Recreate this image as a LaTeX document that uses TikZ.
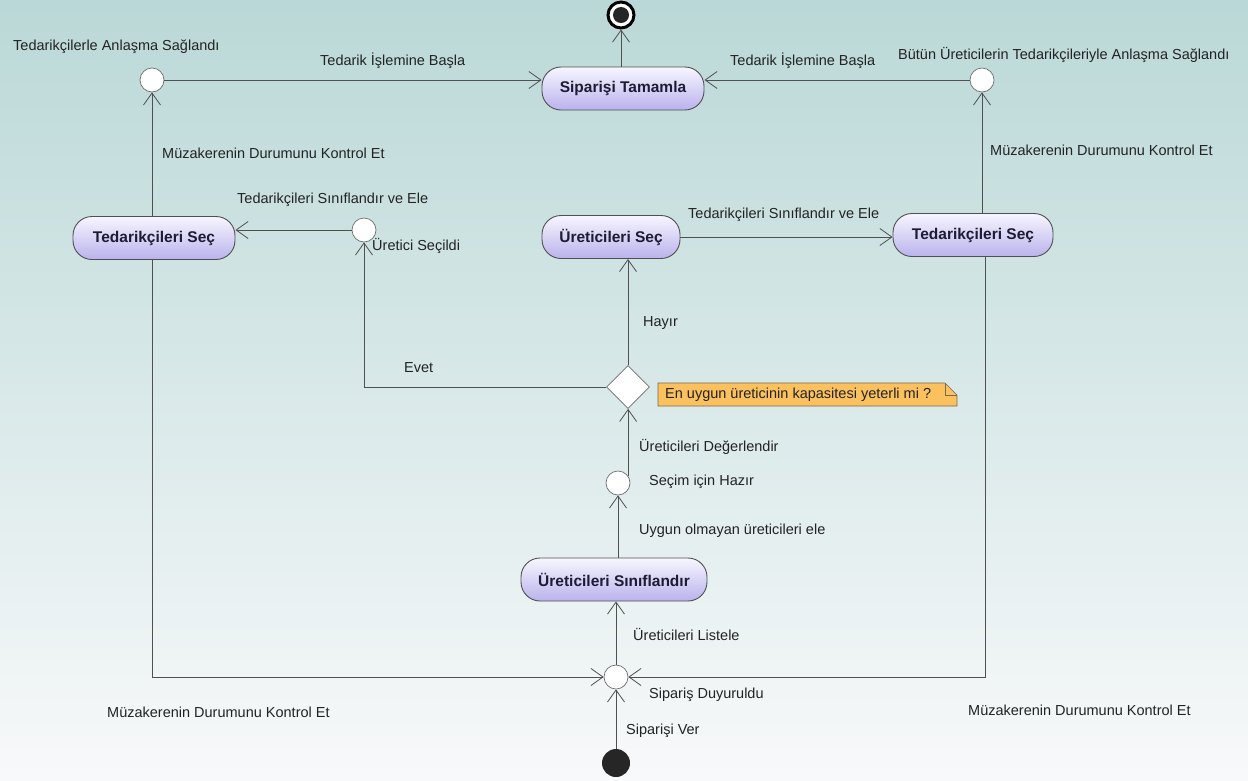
\documentclass[tikz,border=0pt]{standalone}
\usepackage{fontspec}
\setmainfont{Liberation Sans}
\usetikzlibrary{arrows.meta,shapes.geometric,calc}

\definecolor{bgtop}{RGB}{186,216,215}
\definecolor{bgmid}{RGB}{214,230,232}
\definecolor{bgbot}{RGB}{248,249,250}
\definecolor{acttop}{RGB}{247,246,255}
\definecolor{actbot}{RGB}{186,178,236}
\definecolor{edge}{RGB}{80,80,80}
\definecolor{jgray}{RGB}{110,110,110}
\definecolor{txt}{RGB}{35,35,35}
\definecolor{acttxt}{RGB}{28,28,50}
\definecolor{notefill}{RGB}{251,193,95}
\definecolor{noteedge}{RGB}{120,105,80}

\begin{document}
\begin{tikzpicture}[x=1pt,y=-1pt,
  lbl/.style={anchor=west, inner sep=0pt, font=\fontsize{14.5}{16}\selectfont, text=txt},
  act/.style={draw=edge, line width=0.9pt, rounded corners=19pt,
    top color=acttop, bottom color=actbot,
    font=\bfseries\fontsize{15.5}{18}\selectfont, text=acttxt,
    minimum height=43pt, inner sep=0pt},
  junc/.style={circle, draw=jgray, fill=white, minimum size=24pt,
    inner sep=0pt, line width=0.7pt},
  arr/.style={draw=edge, line width=0.8pt, -{Straight Barb[length=12pt,width=17pt,line width=0.8pt]}},
  flow/.style={draw=edge, line width=0.8pt}]

% background
\useasboundingbox (0,0) rectangle (1248,780);
\fill[top color=bgtop, middle color=bgmid, bottom color=bgbot] (0,0) rectangle (1248,780);

% start and end states
\node[circle, fill=black!85, minimum size=28pt, inner sep=0pt] (init) at (616,763) {};
\node[circle, draw=black, line width=3pt, fill=white, minimum size=26pt, inner sep=0pt] (final) at (621,15) {};
\fill[black!85] (final.center) circle (8pt);

% activities
\node[act, minimum width=162pt] (st)   at (623,88.5) {Siparişi Tamamla};
\node[act, minimum width=162pt] (tsL)  at (154,238)  {Tedarikçileri Seç};
\node[act, minimum width=138pt] (us)   at (611,237)  {Üreticileri Seç};
\node[act, minimum width=160pt] (tsR)  at (973,235)  {Tedarikçileri Seç};
\node[act, minimum width=186pt] (usn)  at (614,579.5) {Üreticileri Sınıflandır};

% junction states
\node[junc] (cL)   at (152,80)  {};
\node[junc] (cR)   at (982,80)  {};
\node[junc] (usel) at (364,230) {};
\node[junc] (sel)  at (618,483) {};
\node[junc] (bott) at (616,677) {};

% decision
\node[diamond, draw=jgray, fill=white, minimum size=43pt, inner sep=0pt, line width=0.7pt] (dec) at (628,387) {};

% note
\coordinate (nA) at (658,383);
\coordinate (nB) at (945,383);
\coordinate (nC) at (957,395);
\coordinate (nD) at (957,406);
\coordinate (nE) at (658,406);
\fill[notefill] (nA) -- (nB) -- (nC) -- (nD) -- (nE) -- cycle;
\draw[noteedge, line width=0.7pt] (nA) -- (nB) -- (nC) -- (nD) -- (nE) -- cycle;
\draw[noteedge, line width=0.7pt] (nB) -- (nB |- nC) -- (nC);
\node[lbl] (notetext) at (665,395) {En uygun üreticinin kapasitesi yeterli mi ?};

% connectors
\draw[arr] (init) -- (bott);
\draw[arr] (bott) -- (bott |- usn.south);
\draw[arr] (sel |- usn.north) -- (sel);
\draw[arr] (sel.35) -- (sel.35 |- dec.south);
\draw[arr] (dec.north) -- (dec.north |- us.south);
\draw[arr] (dec.west) -| (usel);
\draw[arr] (usel) -- (usel -| tsL.east);
\draw[arr] (us.east) -- (us.east -| tsR.west);
\draw[arr] (cL |- tsL.north) -- (cL);
\draw[arr] (cR |- tsR.north) -- (cR);
\draw[arr] (cL) -- (cL -| st.west);
\draw[arr] (cR) -- (cR -| st.east);
\draw[arr] (final |- st.north) -- (final);
\draw[arr] (cL |- tsL.south) |- (bott);
\coordinate (tsRb) at (985,256.5);
\draw[arr] (tsRb) |- (bott);

% labels
\node[lbl] (l1)  at (13,47)   {Tedarikçilerle Anlaşma Sağlandı};
\node[lbl] (l2)  at (320,61)  {Tedarik İşlemine Başla};
\node[lbl] (l3)  at (730,61)  {Tedarik İşlemine Başla};
\node[lbl] (l4)  at (898,55)  {Bütün Üreticilerin Tedarikçileriyle Anlaşma Sağlandı};
\node[lbl] (l5)  at (162,153) {Müzakerenin Durumunu Kontrol Et};
\node[lbl] (l6)  at (990,150) {Müzakerenin Durumunu Kontrol Et};
\node[lbl] (l7)  at (237,200) {Tedarikçileri Sınıflandır ve Ele};
\node[lbl] (l8)  at (372,246) {Üretici Seçildi};
\node[lbl] (l9)  at (688,215) {Tedarikçileri Sınıflandır ve Ele};
\node[lbl] (l10) at (643,323) {Hayır};
\node[lbl] (l11) at (404,368) {Evet};
\node[lbl] (l12) at (639,447) {Üreticileri Değerlendir};
\node[lbl] (l13) at (649,482) {Seçim için Hazır};
\node[lbl] (l14) at (639,531) {Uygun olmayan üreticileri ele};
\node[lbl] (l15) at (633,634) {Üreticileri Listele};
\node[lbl] (l16) at (649,695) {Sipariş Duyuruldu};
\node[lbl] (l17) at (626,731) {Siparişi Ver};
\node[lbl] (l18) at (107,712) {Müzakerenin Durumunu Kontrol Et};
\node[lbl] (l19) at (968,710) {Müzakerenin Durumunu Kontrol Et};
\end{tikzpicture}
\end{document}
